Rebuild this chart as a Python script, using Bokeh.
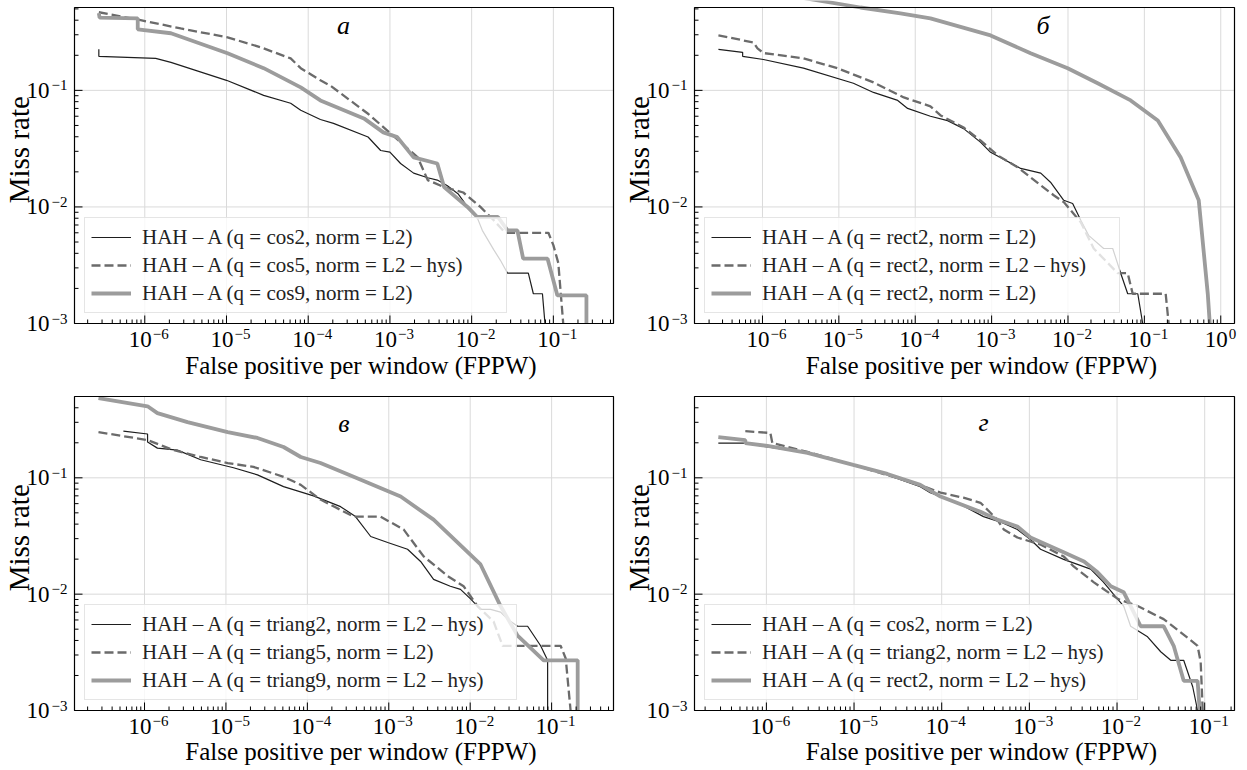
import math
from bokeh.plotting import figure
from bokeh.models import Range1d, Legend, LegendItem
from bokeh.layouts import column, row
from bokeh.embed import file_html
from bokeh.resources import INLINE
from bokeh.core.properties import value

# ---------------- data (FPPW, miss rate) ----------------
# panel а
a_x1 = [2.74e-7, 2.74e-7, 1.36e-6, 2.09e-6, 1e-5, 2.85e-5, 6.1e-5, 8.1e-5, 1.41e-4, 2.04e-4, 5.4e-4, 7.7e-4, 1e-3, 1.35e-3, 1.95e-3, 2.9e-3, 3.8e-3, 5.0e-3, 6.8e-3, 8.9e-3, 0.0117, 0.0135, 0.0186, 0.0224, 0.0275, 0.0494, 0.0569, 0.0735, 0.079]
a_y1 = [0.225, 0.196, 0.188, 0.174, 0.122, 0.0906, 0.0776, 0.0676, 0.0562, 0.0521, 0.0398, 0.0305, 0.0295, 0.0236, 0.0195, 0.0178, 0.0170, 0.0153, 0.0130, 0.0100, 0.0081, 0.0063, 0.0043, 0.0035, 0.0027, 0.0027, 0.0018, 0.0018, 0.001]
a_x2 = [2.74e-7, 8.9e-7, 2.75e-6, 1.03e-5, 2.63e-5, 6.1e-5, 8.1e-5, 1.41e-4, 1.86e-4, 5.4e-4, 1.02e-3, 2.19e-3, 2.9e-3, 4.6e-3, 7.9e-3, 0.0128, 0.0186, 0.0257, 0.087, 0.1, 0.115, 0.132]
a_y2 = [0.468, 0.40, 0.34, 0.285, 0.234, 0.188, 0.155, 0.122, 0.110, 0.063, 0.0427, 0.0266, 0.017, 0.0148, 0.0133, 0.010, 0.0077, 0.006, 0.006, 0.0047, 0.0033, 0.001]
a_x3 = [2.74e-7, 2.8e-7, 8.2e-7, 8.2e-7, 2.09e-6, 1.03e-5, 2.85e-5, 8.1e-5, 1.41e-4, 4.8e-4, 8.3e-4, 1.23e-3, 1.95e-3, 3.8e-3, 4.6e-3, 8.9e-3, 0.0117, 0.021, 0.0275, 0.0363, 0.0427, 0.085, 0.112, 0.254, 0.254]
a_y3 = [0.46, 0.42, 0.415, 0.334, 0.309, 0.208, 0.155, 0.106, 0.082, 0.0575, 0.0436, 0.0397, 0.0266, 0.0236, 0.0148, 0.010, 0.0082, 0.0082, 0.0063, 0.0063, 0.0036, 0.0036, 0.00174, 0.00174, 0.001]

# panel б
b_x1 = [2.65e-7, 5.5e-7, 5.5e-7, 1.03e-6, 3.44e-6, 1.55e-5, 2.84e-5, 5.9e-5, 7.95e-5, 1.58e-4, 2.65e-4, 4.3e-4, 7.2e-4, 9.7e-4, 2.4e-3, 4.4e-3, 5.9e-3, 8.8e-3, 0.0115, 0.0147, 0.0186, 0.0293, 0.0385, 0.049, 0.0605, 0.082, 0.095]
b_y1 = [0.225, 0.212, 0.196, 0.184, 0.155, 0.115, 0.096, 0.082, 0.070, 0.060, 0.055, 0.047, 0.0358, 0.0294, 0.0214, 0.0195, 0.0163, 0.0114, 0.0107, 0.0077, 0.0057, 0.0044, 0.0044, 0.0027, 0.0018, 0.0018, 0.001]
b_x2 = [2.65e-7, 7.6e-7, 8.6e-7, 1.03e-6, 3.44e-6, 9.6e-6, 2.84e-5, 7.1e-5, 1.58e-4, 2.15e-4, 4.3e-4, 7.2e-4, 1.2e-3, 2.19e-3, 4.4e-3, 6.5e-3, 8.8e-3, 0.0147, 0.0217, 0.0448, 0.0605, 0.0703, 0.19, 0.208]
b_y2 = [0.296, 0.258, 0.229, 0.209, 0.188, 0.155, 0.117, 0.087, 0.073, 0.061, 0.048, 0.037, 0.0277, 0.0219, 0.0153, 0.0126, 0.011, 0.0074, 0.0044, 0.0027, 0.0027, 0.0018, 0.0018, 0.001]
b_x3 = [2.65e-7, 3.44e-6, 1.92e-5, 6.4e-5, 1.58e-4, 9.7e-4, 3.24e-3, 9.9e-3, 0.0245, 0.0662, 0.15, 0.299, 0.515, 0.676, 0.718]
b_y3 = [0.72, 0.62, 0.514, 0.457, 0.415, 0.296, 0.208, 0.155, 0.115, 0.082, 0.0552, 0.0266, 0.0114, 0.0018, 0.001]

# panel в
c_x1 = [5.5e-7, 1.09e-6, 1.09e-6, 1.44e-6, 2.54e-6, 4.9e-6, 1.24e-5, 2.44e-5, 5.1e-5, 1.19e-4, 2.56e-4, 3.9e-4, 6.0e-4, 9.7e-4, 1.7e-3, 2.46e-3, 3.55e-3, 5.7e-3, 7.6e-3, 0.0101, 0.0134, 0.0178, 0.0236, 0.0288, 0.0382, 0.0507, 0.0733, 0.0893, 0.0893]
c_y1 = [0.252, 0.238, 0.203, 0.180, 0.173, 0.143, 0.122, 0.106, 0.084, 0.070, 0.0565, 0.0464, 0.0313, 0.0278, 0.0243, 0.0191, 0.0134, 0.0117, 0.0110, 0.0091, 0.0074, 0.0074, 0.0070, 0.0061, 0.0053, 0.0053, 0.0036, 0.0027, 0.001]
c_x2 = [2.72e-7, 1.09e-6, 2.27e-6, 4.9e-6, 1.05e-5, 2.18e-5, 5.1e-5, 8.3e-5, 1.45e-4, 3.7e-4, 7.9e-4, 1.52e-3, 2.68e-3, 5.3e-3, 8.3e-3, 0.0123, 0.0194, 0.025, 0.129, 0.149, 0.171]
c_y2 = [0.247, 0.211, 0.173, 0.151, 0.134, 0.124, 0.102, 0.087, 0.065, 0.0464, 0.0464, 0.036, 0.0211, 0.0143, 0.0117, 0.0079, 0.0058, 0.0036, 0.0036, 0.0028, 0.001]
c_x3 = [2.72e-7, 1.09e-6, 1.44e-6, 3.37e-6, 1.05e-5, 2.44e-5, 5.1e-5, 8.3e-5, 1.45e-4, 3.7e-4, 1.4e-3, 3.55e-3, 0.0134, 0.0236, 0.0382, 0.0798, 0.209, 0.209]
c_y3 = [0.483, 0.412, 0.36, 0.301, 0.247, 0.22, 0.184, 0.151, 0.134, 0.102, 0.069, 0.0437, 0.018, 0.0079, 0.0044, 0.0027, 0.0027, 0.001]

# panel г
d_x1 = [2.83e-7, 5.75e-7, 1.03e-6, 2.94e-6, 9.8e-6, 2.4e-5, 5.7e-5, 7.4e-5, 1.51e-4, 3.0e-4, 4.9e-4, 7.3e-4, 1.03e-3, 1.34e-3, 2.46e-3, 5.0e-3, 7.0e-3, 9.1e-3, 0.0119, 0.0143, 0.0223, 0.0315, 0.041, 0.0576, 0.073, 0.083]
d_y1 = [0.199, 0.199, 0.184, 0.164, 0.129, 0.106, 0.084, 0.0745, 0.061, 0.0464, 0.0412, 0.036, 0.0295, 0.0243, 0.0199, 0.0164, 0.0127, 0.010, 0.0079, 0.0053, 0.0043, 0.0032, 0.0027, 0.0027, 0.0016, 0.001]
d_x2 = [5.75e-7, 1.11e-6, 1.17e-6, 2.94e-6, 9.8e-6, 5.7e-5, 9.7e-5, 1.77e-4, 2.77e-4, 4.3e-4, 5.1e-4, 7.3e-4, 1.34e-3, 2.46e-3, 3.2e-3, 5.4e-3, 0.0102, 0.0172, 0.034, 0.0532, 0.083, 0.090, 0.095]
d_y2 = [0.252, 0.243, 0.199, 0.167, 0.129, 0.087, 0.0745, 0.0675, 0.061, 0.0437, 0.036, 0.0307, 0.0267, 0.0211, 0.0173, 0.0127, 0.0091, 0.0079, 0.0061, 0.0047, 0.0036, 0.0026, 0.001]
d_x3 = [2.83e-7, 5.75e-7, 5.75e-7, 1.03e-6, 2.94e-6, 9.8e-6, 2.4e-5, 5.7e-5, 9.7e-5, 2.77e-4, 4.3e-4, 7.3e-4, 1.03e-3, 2.46e-3, 4.2e-3, 6.0e-3, 8.5e-3, 0.0119, 0.0143, 0.0186, 0.034, 0.0443, 0.0576, 0.083, 0.0877]
d_y3 = [0.224, 0.211, 0.199, 0.188, 0.164, 0.129, 0.108, 0.087, 0.069, 0.051, 0.0437, 0.0381, 0.0307, 0.0229, 0.0191, 0.0154, 0.0117, 0.0104, 0.0079, 0.0053, 0.0053, 0.0036, 0.0018, 0.0018, 0.001]

a_labels = ["HAH – A (q = cos2, norm = L2)", "HAH – A (q = cos5, norm = L2 – hys)", "HAH – A (q = cos9, norm = L2)"]
b_labels = ["HAH – A (q = rect2, norm = L2)", "HAH – A (q = rect2, norm = L2 – hys)", "HAH – A (q = rect2, norm = L2)"]
c_labels = ["HAH – A (q = triang2, norm = L2 – hys)", "HAH – A (q = triang5, norm = L2)", "HAH – A (q = triang9, norm = L2 – hys)"]
d_labels = ["HAH – A (q = cos2, norm = L2)", "HAH – A (q = triang2, norm = L2 – hys)", "HAH – A (q = rect2, norm = L2 – hys)"]

x_title = "False positive per window (FPPW)"
y_title = "Miss rate"

# ---------------- styling ----------------
FONT = value("Liberation Serif")
STYLES = [
    dict(line_color="#1e1e1e", line_width=1.2),
    dict(line_color="#6b6b6b", line_width=2.3, line_dash="9 4"),
    dict(line_color="#9c9c9c", line_width=3.8),
]
MAJOR = [10.0 ** k for k in range(-8, 2)]
MINOR = [m * 10.0 ** k for k in range(-8, 1) for m in range(2, 10)]


def exp_text(t):
    e = int(round(math.log10(t)))
    return ("\u2212" + str(-e)) if e < 0 else str(e)


def panel(vx, vy, W, H, L, R, T, B, series, labels, letter, lpos, lw, xlab_dy):
    # vx, vy: log10 limits of the plotting box; L, R, T, B: pixel room around it
    ppx = (W - L - R) / (vx[1] - vx[0])
    ppy = (H - T - B) / (vy[1] - vy[0])
    p = figure(width=W, height=H, x_axis_type="log", y_axis_type="log",
               x_axis_location=None, y_axis_location=None,
               x_range=Range1d(10 ** (vx[0] - L / ppx), 10 ** (vx[1] + R / ppx)),
               y_range=Range1d(10 ** (vy[0] - B / ppy), 10 ** (vy[1] + T / ppy)),
               output_backend="svg", toolbar_location=None,
               min_border_left=0, min_border_right=0, min_border_top=0, min_border_bottom=0)
    p.outline_line_color = None
    p.background_fill_color = "white"
    p.border_fill_color = "white"
    p.xgrid.visible = False
    p.ygrid.visible = False

    def X(lx, dpx=0.0):
        return 10 ** (lx + dpx / ppx)

    def Y(ly, dpx=0.0):
        return 10 ** (ly + dpx / ppy)

    x0, x1, y0, y1 = X(vx[0]), X(vx[1]), Y(vy[0]), Y(vy[1])
    eps = 1e-9
    gx = [t for t in MAJOR if x0 * (1 + eps) < t < x1 * (1 - eps)]
    gy = [t for t in MAJOR if y0 * (1 + eps) < t < y1 * (1 - eps)]
    mx = [t for t in MAJOR if x0 <= t <= x1]
    my = [t for t in MAJOR if y0 * (1 - eps) <= t <= y1]
    nx = [t for t in MINOR if x0 < t < x1]
    ny = [t for t in MINOR if y0 < t < y1]

    # grid
    p.segment(x0=gx, y0=[y0] * len(gx), x1=gx, y1=[y1] * len(gx), line_color="#dadada", line_width=1)
    p.segment(x0=[x0] * len(gy), y0=gy, x1=[x1] * len(gy), y1=gy, line_color="#dadada", line_width=1)

    # data
    rends = []
    for (xs, ys), st in zip(series, STYLES):
        rends.append(p.line(xs, ys, **st))

    # ticks (pointing inwards)
    p.ray(x=mx, y=[y0] * len(mx), length=8, length_units="screen", angle=math.pi / 2, line_color="black", line_width=1)
    p.ray(x=nx, y=[y0] * len(nx), length=4, length_units="screen", angle=math.pi / 2, line_color="black", line_width=1)
    p.ray(x=[x0] * len(my), y=my, length=8, length_units="screen", angle=0, line_color="black", line_width=1)
    p.ray(x=[x0] * len(ny), y=ny, length=4, length_units="screen", angle=0, line_color="black", line_width=1)

    # frame
    p.quad(left=[x0], right=[x1], bottom=[y0], top=[y1], fill_alpha=0, line_color="black", line_width=1.2)

    # tick labels 10^k  (all anchored at the middle of the text box)
    lxt = [math.log10(t) for t in mx]
    p.text(x=[X(v, -16) for v in lxt], y=[Y(vy[0], -16)] * len(mx), text=["10"] * len(mx),
           text_font=FONT, text_font_size="23px", text_align="left", text_baseline="middle", text_color="black")
    p.text(x=[X(v, 8) for v in lxt], y=[Y(vy[0], -10)] * len(mx), text=[exp_text(t) for t in mx],
           text_font=FONT, text_font_size="15px", text_align="left", text_baseline="middle", text_color="black")
    exps = [exp_text(t) for t in my]
    wex = [(0.564 + 0.5 * (len(e) - 1)) * 15 for e in exps]
    p.text(x=[X(vx[0], -7)] * len(my), y=[Y(math.log10(t), 5) for t in my], text=exps,
           text_font=FONT, text_font_size="15px", text_align="right", text_baseline="middle", text_color="black")
    p.text(x=[X(vx[0], -9 - w) for w in wex], y=my, text=["10"] * len(my),
           text_font=FONT, text_font_size="23px", text_align="right", text_baseline="middle", text_color="black")

    # axis titles
    p.text(x=[X((vx[0] + vx[1]) / 2, 17)], y=[Y(vy[0], xlab_dy)], text=[x_title],
           text_font=FONT, text_font_size="25px", text_align="center", text_baseline="middle", text_color="black")
    p.text(x=[X(vx[0], -56)], y=[Y(vy[1] - 0.45 * (vy[1] - vy[0]))], text=[y_title], angle=math.pi / 2,
           text_font=FONT, text_font_size="29px", text_align="center", text_baseline="middle", text_color="black")

    # panel letter
    p.text(x=[lpos[0]], y=[lpos[1]], text=[letter], text_font=FONT, text_font_style="italic",
           text_font_size="26px", text_align="center", text_baseline="middle", text_color="black")

    items = [LegendItem(label=s, renderers=[r]) for s, r in zip(labels, rends)]
    leg = Legend(items=items, location=(L + 10, B + 10),
                 label_text_font="Liberation Serif", label_text_font_size="21px",
                 label_text_color="#222222", label_width=lw,
                 glyph_width=40, glyph_height=26, label_height=26,
                 label_standoff=11, padding=6, spacing=2, margin=0,
                 border_line_color="#cccccc", border_line_width=1,
                 background_fill_color="white", background_fill_alpha=0.8)
    p.add_layout(leg)
    return p


TOP_V = (-3.0, math.log10(0.514))
BOT_V = (-3.0, math.log10(0.50))

pa = panel((-6.86, -0.264), TOP_V, 618, 388, 74, 5, 7, 65,
           [(a_x1, a_y1), (a_x2, a_y2), (a_x3, a_y3)], a_labels,
           "а", (2.7e-4, 0.36), 358, -42)
pb = panel((-6.89, 0.18), TOP_V, 623, 388, 76, 7, 7, 65,
           [(b_x1, b_y1), (b_x2, b_y2), (b_x3, b_y3)], b_labels,
           "б", (4.7e-3, 0.36), 351, -42)
pc = panel((-6.86, -0.24), BOT_V, 618, 380, 74, 5, 8, 58,
           [(c_x1, c_y1), (c_x2, c_y2), (c_x3, c_y3)], c_labels,
           "в", (2.8e-4, 0.295), 368, -41)
pd = panel((-6.82, -0.66), BOT_V, 623, 380, 76, 7, 8, 58,
           [(d_x1, d_y1), (d_x2, d_y2), (d_x3, d_y3)], d_labels,
           "г", (3.0e-4, 0.30), 369, -41)

layout = column(row(pa, pb), row(pc, pd))
open("out.html", "w", encoding="utf-8").write(file_html(layout, INLINE))
